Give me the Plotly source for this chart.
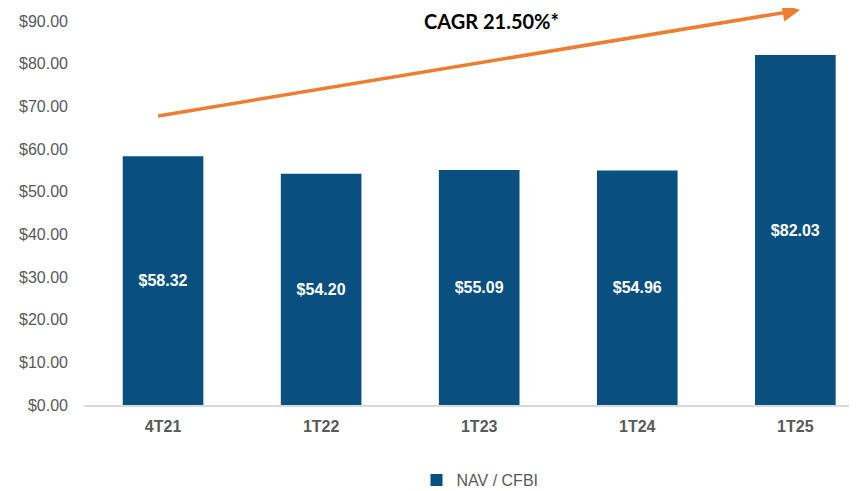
import plotly.graph_objects as go

categories = ["4T21", "1T22", "1T23", "1T24", "1T25"]
nav_values = [58.32, 54.20, 55.09, 54.96, 82.03]
value_labels = ["$58.32", "$54.20", "$55.09", "$54.96", "$82.03"]
series_name = "NAV / CFBI"
cagr_text = "CAGR 21.50%*"
y_ticks = [0, 10, 20, 30, 40, 50, 60, 70, 80, 90]
y_tick_labels = ["$%.2f" % v for v in y_ticks]

fig = go.Figure()
fig.add_trace(go.Bar(
    x=list(range(len(categories))),
    y=nav_values,
    name=series_name,
    marker=dict(color="#094F7F", line=dict(width=0)),
    text=value_labels,
    textposition="inside",
    insidetextanchor="middle",
    textfont=dict(family="Liberation Sans, Arial", size=16, color="white", weight="bold"),
    textangle=0,
    showlegend=True,
))

# trend arrow
fig.add_annotation(
    x=4.03, y=92.6, xref="x", yref="y",
    ax=-0.04, ay=67.7, axref="x", ayref="y",
    showarrow=True, arrowhead=2, arrowsize=1.0, arrowwidth=3.5,
    arrowcolor="#ED7D31", text="",
)
fig.add_annotation(
    x=(491 - 84) / 773, y=1.0, xref="paper", yref="paper",
    text="<b>" + cagr_text + "</b>", showarrow=False,
    font=dict(family="Lato, Open Sans", size=20, color="black"),
    xanchor="center", yanchor="middle",
)

# page body has an 8px default margin, so the figure is offset by (8, 8)
fig.update_layout(
    width=849, height=483,
    margin=dict(l=76, r=0, t=13, b=86, autoexpand=False),
    paper_bgcolor="white", plot_bgcolor="white",
    bargap=0.49,
    xaxis=dict(
        range=[-0.5, 4.39],
        automargin=False,
        tickmode="array",
        tickvals=list(range(len(categories))),
        ticktext=["<b>%s</b>" % c for c in categories],
        tickfont=dict(family="Liberation Sans, Arial", size=16, color="#595959"),
        showgrid=False, zeroline=False,
        showline=True, linecolor="#D9D9D9", linewidth=1.5,
        ticks="", ticklen=0, ticklabelstandoff=6,
    ),
    yaxis=dict(
        range=[0, 90],
        automargin=False,
        tickmode="array",
        tickvals=y_ticks,
        ticktext=y_tick_labels,
        tickfont=dict(family="Liberation Sans, Arial", size=16, color="#595959"),
        showgrid=False, zeroline=False, showline=False,
        ticks="", ticklabelstandoff=15,
    ),
    legend=dict(
        orientation="h",
        xref="container", yref="paper",
        x=472 / 849, y=-75 / 384, xanchor="center", yanchor="middle",
        font=dict(family="Liberation Sans, Arial", size=16, color="#595959"),
        itemwidth=30,
    ),
)

fig.write_html("out.html")
